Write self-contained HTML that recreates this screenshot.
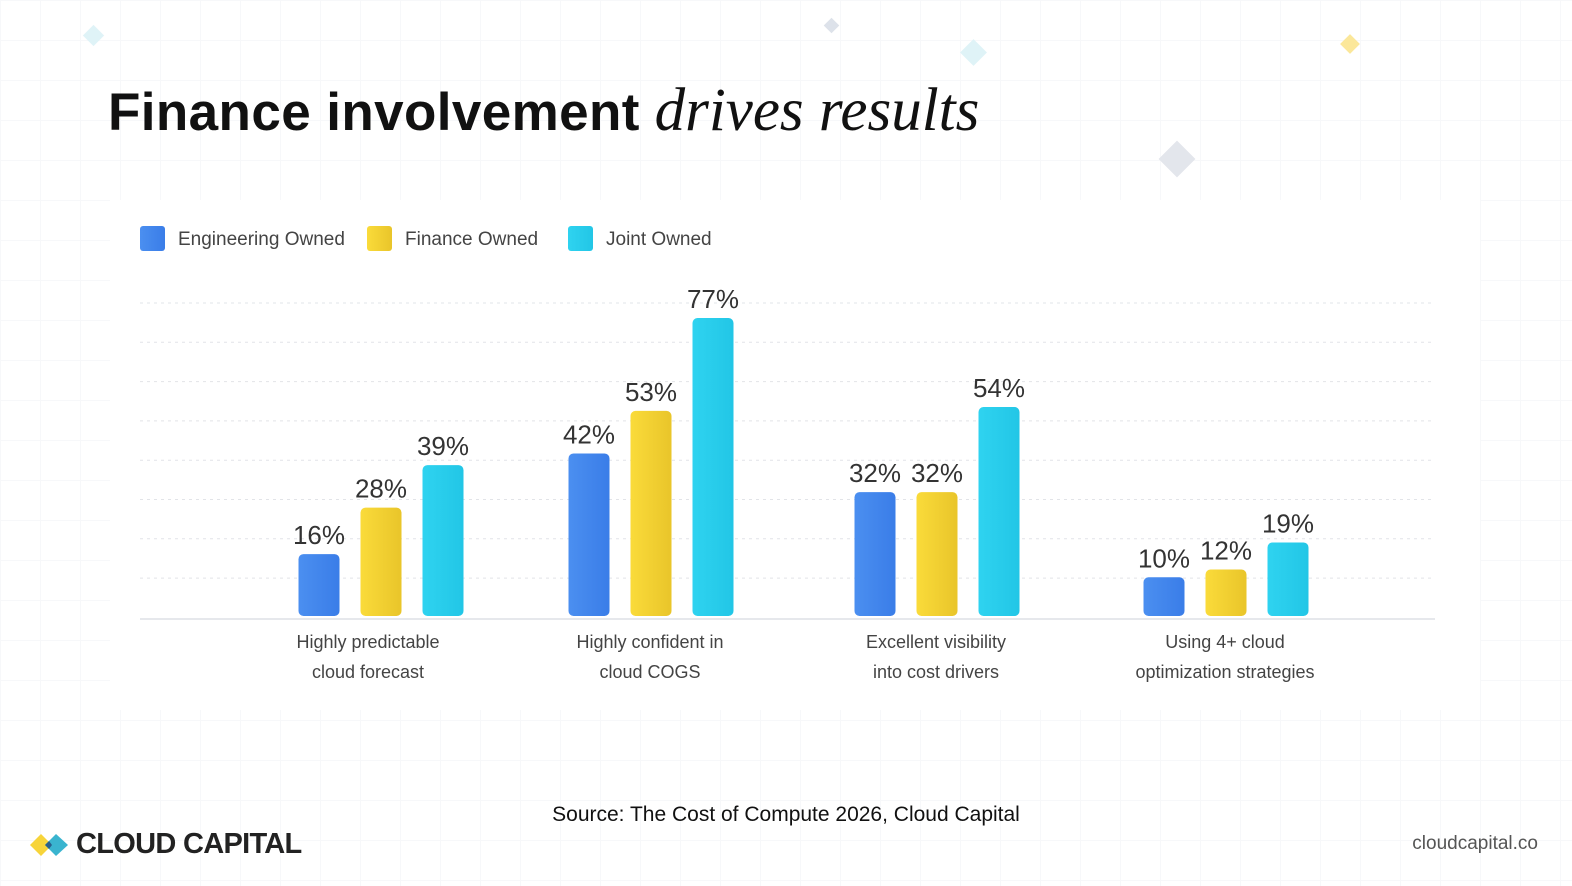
<!DOCTYPE html>
<html><head><meta charset="utf-8">
<style>
html,body{margin:0;padding:0;}
body{width:1572px;height:886px;position:relative;overflow:hidden;background:#fff;
background-image:linear-gradient(#f7f8fa 1px,transparent 1px),linear-gradient(90deg,#f7f8fa 1px,transparent 1px);background-size:40px 40px;font-family:"Liberation Sans",sans-serif;}
.panel{position:absolute;left:110px;top:200px;width:1370px;height:510px;background:#fff;}
.title{position:absolute;left:108px;top:76px;font-size:53px;color:#111;white-space:nowrap;}
.title b{font-weight:bold;letter-spacing:0.4px;}
.title i{font-family:"Liberation Serif",serif;font-size:61px;}
.dia{position:absolute;transform:rotate(45deg);}
.src{position:absolute;left:0;width:1572px;top:803px;text-align:center;font-size:21px;color:#111;}
.site{position:absolute;right:34px;top:833px;font-size:19px;color:#555;}
.logo{position:absolute;left:76px;top:828px;font-size:29px;font-weight:bold;color:#222;letter-spacing:-0.7px;}
</style></head><body>
<div class="dia" style="left:86px;top:28px;width:15px;height:15px;background:#dff3f7"></div>
<div class="dia" style="left:826px;top:20px;width:11px;height:11px;background:#dde2ea"></div>
<div class="dia" style="left:964px;top:43px;width:19px;height:19px;background:#dff3f7"></div>
<div class="dia" style="left:1343px;top:37px;width:14px;height:14px;background:#fbe79a"></div>
<div class="dia" style="left:1164px;top:146px;width:26px;height:26px;background:#e3e6ec"></div>
<div class="panel"></div>
<div class="title"><b>Finance involvement</b> <i>drives results</i></div>
<svg id="chart" width="1572" height="886" style="position:absolute;left:0;top:0">
<defs>
<linearGradient id="g0" x1="0" x2="1"><stop offset="0" stop-color="#4b8ff0"/><stop offset="1" stop-color="#3a7de8"/></linearGradient>
<linearGradient id="g1" x1="0" x2="1"><stop offset="0" stop-color="#fadb3a"/><stop offset="1" stop-color="#e9c52a"/></linearGradient>
<linearGradient id="g2" x1="0" x2="1"><stop offset="0" stop-color="#2fd3f0"/><stop offset="1" stop-color="#22c6e6"/></linearGradient>
</defs>
</svg>
<div class="src">Source: The Cost of Compute 2026, Cloud Capital</div>
<svg style="position:absolute;left:30px;top:831px" width="42" height="28">
<polygon points="0,14 11,3 22,14 11,25" fill="#f7d43a"/><polygon points="15,14 26,3 38,14 26,25" fill="#3ab4cf"/><polygon points="15,14 19,10 22,14 19,18" fill="#2a5f8c"/></svg>
<div class="logo">CLOUD CAPITAL</div>
<div class="site">cloudcapital.co</div>
<script>
const categories=[["Highly predictable","cloud forecast"],["Highly confident in","cloud COGS"],["Excellent visibility","into cost drivers"],["Using 4+ cloud","optimization strategies"]];
const seriesNames=["Engineering Owned","Finance Owned","Joint Owned"];
const engineering=[16,42,32,10];
const finance=[28,53,32,12];
const joint=[39,77,54,19];
const series=[engineering,finance,joint];
const gridLines=[0,1,2,3,4,5,6,7];
const svg=document.getElementById('chart');
const NS='http://www.w3.org/2000/svg';
const baseY=616, pxPer=3.87, centers=[381,651,937,1226], labelCenters=[368,650,936,1225], bw=41, step=62;
const y=v=>baseY-v*pxPer;
const xb=(c,s)=>centers[c]+(s-1)*step-bw/2;
function mk(t,a){const e=document.createElementNS(NS,t);for(const k in a)e.setAttribute(k,a[k]);svg.appendChild(e);return e;}
gridLines.forEach(i=>{const gy=303+i*39.3;const l=mk('line',{x1:140,x2:1435,y1:gy,y2:gy,stroke:'#e2e4e8','stroke-dasharray':'3 4','stroke-width':1});

});
const ax=mk('line',{x1:140,x2:1435,y1:619,y2:619,stroke:'#e6e8ec','stroke-width':2});


series.forEach((arr,s)=>arr.forEach((v,c)=>{
 const r=mk('rect',{x:xb(c,s),y:y(v),width:bw,height:v*pxPer,rx:5,fill:'url(#g'+s+')'});
 
 
 const t=mk('text',{x:xb(c,s)+bw/2,y:y(v)-10,'text-anchor':'middle','font-size':26,fill:'#333','font-family':'Liberation Sans, sans-serif'});
 t.textContent=v+'%';
 
 
}));
categories.forEach((lines,c)=>lines.forEach((ln,i)=>{
 const t=mk('text',{x:labelCenters[c],y:648+i*30,'text-anchor':'middle','font-size':18,fill:'#444','font-family':'Liberation Sans, sans-serif'});
 t.textContent=ln;
 
 
}));
const legX=[140,367,568],cols=['url(#g0)','url(#g1)','url(#g2)'];
seriesNames.forEach((n,i)=>{
 const r=mk('rect',{x:legX[i],y:226,width:25,height:25,rx:3,fill:cols[i]});
 
 
 const t=mk('text',{x:legX[i]+38,y:245,'font-size':19,fill:'#444','font-family':'Liberation Sans, sans-serif'});
 t.textContent=n;
 
 
});
</script>
</body></html>
